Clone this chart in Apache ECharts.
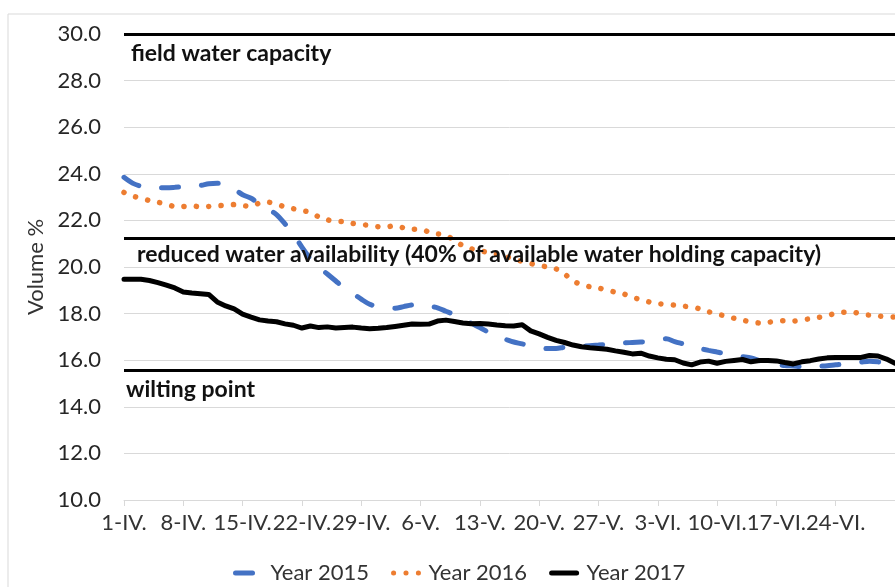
<!DOCTYPE html>
<html>
<head>
<meta charset="utf-8">
<script src="https://cdn.jsdelivr.net/npm/echarts@6/dist/echarts.min.js"></script>
<style>
  html, body { margin: 0; padding: 0; background: #fff; }
  #main { width: 895px; height: 587px; }
</style>
</head>
<body>
<div id="main"></div>
<script>
  // months shown on the axis (roman numerals) and their day counts
  const months = [['IV', 30], ['V', 31], ['VI', 30], ['VII', 1]];
  const days = [];
  months.forEach(function (m) {
    for (let d = 1; d <= m[1]; d++) days.push(d + '-' + m[0] + '.');
  });

  const seriesNames = ['Year 2015', 'Year 2016', 'Year 2017'];

  // soil moisture, volume %, one value per day from 1-IV.
  const year2015 = [
    23.85, 23.6, 23.47, 23.42, 23.4, 23.4, 23.42, 23.45, 23.48, 23.5,
    23.57, 23.59, 23.55, 23.35, 23.1, 22.95, 22.7, 22.48, 22.25, 21.85,
    21.4, 20.85, 20.35, 20.0, 19.7, 19.4, 19.1, 18.87, 18.62, 18.4,
    18.3, 18.25, 18.23, 18.3, 18.37, 18.4, 18.32, 18.25, 18.1, 17.95,
    17.78, 17.58, 17.4, 17.2, 17.02, 16.9, 16.78, 16.7, 16.6, 16.54,
    16.5, 16.5, 16.56, 16.58, 16.6, 16.62, 16.65, 16.68, 16.7, 16.74,
    16.76, 16.78, 16.8, 16.88, 16.92, 16.8, 16.7, 16.6, 16.5, 16.42,
    16.35, 16.28, 16.2, 16.15, 16.1, 15.98, 15.9, 15.82, 15.77, 15.75,
    15.72, 15.72, 15.74, 15.76, 15.8, 15.83, 15.87, 15.92, 15.96, 15.93,
    15.87, 15.8
  ];
  const year2016 = [
    23.2, 23.05, 22.95, 22.85, 22.78, 22.7, 22.6, 22.6, 22.63, 22.58,
    22.6, 22.63, 22.65, 22.68, 22.64, 22.6, 22.75, 22.78, 22.7, 22.58,
    22.5, 22.42, 22.35, 22.15, 22.03, 21.95, 21.95, 21.87, 21.82, 21.79,
    21.73, 21.72, 21.78, 21.68, 21.62, 21.62, 21.5, 21.42, 21.37, 21.12,
    20.92, 20.78, 20.7, 20.62, 20.55, 20.46, 20.34, 20.24, 20.15, 20.07,
    20.0, 19.92, 19.7, 19.4, 19.25, 19.15, 19.1, 19.0, 18.92, 18.84,
    18.7, 18.6, 18.5, 18.43, 18.4, 18.36, 18.32, 18.28, 18.2, 18.08,
    17.98, 17.9, 17.8, 17.72, 17.64, 17.6, 17.62, 17.68, 17.69, 17.68,
    17.73, 17.78, 17.84, 17.91, 18.02, 18.06, 18.06, 17.98, 17.93, 17.9,
    17.87, 17.85
  ];
  const year2017 = [
    19.47, 19.47, 19.47, 19.42, 19.33, 19.22, 19.1, 18.93, 18.88, 18.85,
    18.82, 18.5, 18.33, 18.2, 17.98, 17.85, 17.73, 17.68, 17.65, 17.56,
    17.5, 17.38, 17.47, 17.4, 17.43, 17.38, 17.4, 17.42, 17.38, 17.35,
    17.37, 17.4, 17.45, 17.5, 17.55, 17.54, 17.55, 17.68, 17.72, 17.66,
    17.6, 17.56, 17.58, 17.55, 17.51, 17.48, 17.47, 17.52, 17.26, 17.13,
    16.98, 16.85, 16.76, 16.65, 16.58, 16.53, 16.5, 16.47, 16.4, 16.34,
    16.27, 16.3, 16.18, 16.1, 16.04, 16.02, 15.88, 15.8, 15.92, 15.96,
    15.87, 15.95, 15.99, 16.03, 15.93, 15.99, 15.99, 15.97, 15.9, 15.84,
    15.93, 15.98, 16.05, 16.1, 16.12, 16.12, 16.12, 16.12, 16.2, 16.18,
    16.05, 15.87
  ];

  // reference levels
  const fieldCapacity = 30.0;
  const reducedAvailability = 21.25;
  const wiltingPoint = 15.55;
  const levelTexts = [
    'field water capacity',
    'reduced water availability (40% of available water holding capacity)',
    'wilting point'
  ];

  const myChart = echarts.init(document.getElementById('main'));

  const refLabel = {
    show: true,
    position: 'insideStartBottom',
    fontFamily: 'Lato',
    fontWeight: 'bold',
    fontSize: 23,
    color: '#111'
  };

  const option = {
    backgroundColor: '#fff',
    animation: false,
    textStyle: { fontFamily: 'Lato' },
    graphic: [{
      type: 'rect',
      shape: { x: 8, y: 14, width: 900, height: 600 },
      style: { fill: 'none', stroke: '#d9d9d9', lineWidth: 1 },
      silent: true
    }],
    grid: { left: 124, right: 0, top: 34, bottom: 87 },
    legend: {
      data: seriesNames,
      left: 228,
      top: 557,
      itemWidth: 25,
      itemHeight: 12,
      itemGap: 22,
      itemStyle: { color: 'rgba(0,0,0,0)', borderWidth: 0 },
      lineStyle: { width: 5 },
      textStyle: { fontSize: 22, color: '#333', fontFamily: 'Lato', padding: [0, 0, 0, 5] }
    },
    xAxis: {
      type: 'category',
      data: days,
      boundaryGap: false,
      axisLine: { show: true, lineStyle: { color: '#d9d9d9', width: 1 } },
      axisTick: { show: true, interval: 6, length: 6, lineStyle: { color: '#d9d9d9' } },
      axisLabel: {
        interval: 6, margin: 12, fontSize: 22, color: '#333', fontFamily: 'Lato',
        hideOverlap: false, showMaxLabel: false
      },
      splitLine: { show: false }
    },
    yAxis: {
      type: 'value',
      min: 10,
      max: 30,
      interval: 2,
      name: 'Volume %',
      nameLocation: 'middle',
      nameGap: 71,
      nameRotate: 90,
      nameTextStyle: { fontSize: 22, color: '#333', fontFamily: 'Lato' },
      axisLine: { show: false },
      axisTick: { show: false },
      axisLabel: {
        margin: 23,
        fontSize: 22,
        color: '#262626',
        fontFamily: 'Lato',
        formatter: function (v) { return v.toFixed(1); }
      },
      splitLine: { lineStyle: { color: '#d9d9d9', width: 1 } }
    },
    series: [{
      name: seriesNames[0],
      type: 'line',
      data: year2015,
      showSymbol: false,
      symbol: 'none',
      smooth: 0.3,
      lineStyle: { color: '#4472c4', width: 5, type: [17, 23], cap: 'round' },
      itemStyle: { color: '#4472c4' },
      z: 2
    }, {
      name: seriesNames[1],
      type: 'line',
      data: year2016,
      showSymbol: false,
      symbol: 'none',
      smooth: 0.3,
      lineStyle: { color: '#ed7d31', width: 5.5, type: [0.1, 12.3], cap: 'round' },
      itemStyle: { color: '#ed7d31' },
      z: 3
    }, {
      name: seriesNames[2],
      type: 'line',
      data: year2017,
      showSymbol: false,
      symbol: 'none',
      lineStyle: { color: '#000', width: 5, join: 'round', cap: 'round' },
      itemStyle: { color: '#000' },
      z: 4,
      markLine: {
        silent: true,
        symbol: ['none', 'none'],
        lineStyle: { color: '#000', width: 3, type: 'solid' },
        data: [
          { yAxis: fieldCapacity, label: Object.assign({}, refLabel, { formatter: levelTexts[0], distance: [7, 8] }) },
          { yAxis: reducedAvailability, label: Object.assign({}, refLabel, { formatter: levelTexts[1], distance: [13, 5] }) },
          { yAxis: wiltingPoint, label: Object.assign({}, refLabel, { formatter: levelTexts[2], distance: [2, 7] }) }
        ]
      }
    }]
  };

  myChart.setOption(option);
</script>
</body>
</html>
